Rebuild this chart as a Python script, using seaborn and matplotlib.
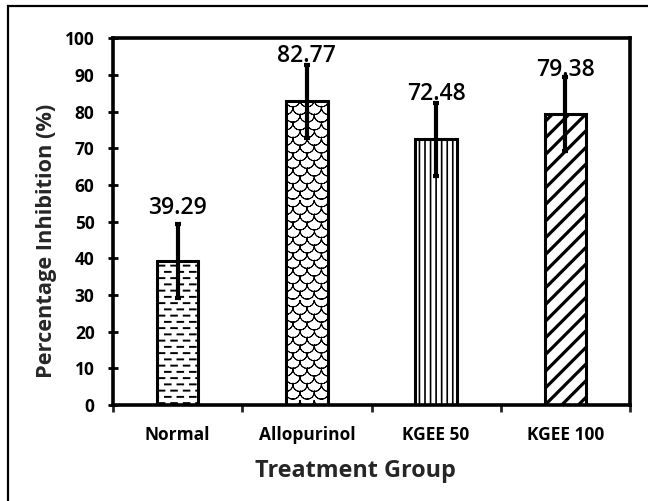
import warnings
import numpy as np
import pandas as pd
import matplotlib
matplotlib.use("Agg")
import matplotlib.pyplot as plt
import matplotlib.hatch as mhatch
from matplotlib.path import Path
from matplotlib.patches import Rectangle
import seaborn as sns

warnings.filterwarnings("ignore", category=matplotlib.MatplotlibDeprecationWarning)

# ---- data ----
groups = ["Normal", "Allopurinol", "KGEE 50", "KGEE 100"]
inhibition = [39.29, 82.77, 72.48, 79.38]
error = [10.0, 10.0, 10.0, 10.0]
y_ticks = [0, 10, 20, 30, 40, 50, 60, 70, 80, 90, 100]


# ---- extra fill patterns ----
class DashRowHatch(mhatch.HatchPatternBase):
    """Rows of short horizontal dashes, every other row shifted ('=')."""

    def __init__(self, hatch, density):
        n = hatch.count("=")
        self.rows = 16 * n
        self.cols = 8
        self.num_vertices = self.rows * (self.cols + 1) * 2

    def set_vertices_and_codes(self, vertices, codes):
        sy = 1.0 / self.rows
        sx = 1.0 / self.cols
        k = 0
        for r in range(self.rows):
            y = (r + 0.5) * sy
            shift = (r % 2) * sx / 2
            for c in range(-1, self.cols):
                x0 = c * sx + shift + sx * 0.2
                vertices[k] = (x0, y)
                vertices[k + 1] = (x0 + sx * 0.45, y)
                codes[k] = Path.MOVETO
                codes[k + 1] = Path.LINETO
                k += 2


class ScaleHatch(mhatch.HatchPatternBase):
    """Fish-scale arcs in a brick layout ('~').

    Each arc is traced out and back so the stroke encloses no area.
    """

    seg = 8

    def __init__(self, hatch, density):
        n = hatch.count("~")
        self.rows = 13 * n
        self.cols = 7 * n
        self.per_arc = 2 * self.seg + 1
        if n:
            self.num_vertices = (self.rows + 2) * (self.cols + 2) * self.per_arc
        else:
            self.num_vertices = 0

    def set_vertices_and_codes(self, vertices, codes):
        sy = 1.0 / self.rows
        sx = 1.0 / self.cols
        t = np.linspace(np.pi, 2 * np.pi, self.seg + 1)
        t = np.concatenate([t, t[-2::-1]])
        k = 0
        for r in range(-1, self.rows + 1):
            cy = (r + 0.5) * sy
            shift = (r % 2) * sx / 2
            for c in range(-1, self.cols + 1):
                cx = (c + 0.5) * sx + shift
                vertices[k:k + self.per_arc, 0] = cx + 0.5 * sx * np.cos(t)
                vertices[k:k + self.per_arc, 1] = cy + 0.5 * sy + 0.9 * sy * np.sin(t)
                codes[k] = Path.MOVETO
                codes[k + 1:k + self.per_arc] = Path.LINETO
                k += self.per_arc


mhatch._hatch_types.append(DashRowHatch)
mhatch._hatch_types.append(ScaleHatch)

# ---- style ----
sns.set_theme(style="ticks")
plt.rcParams["font.family"] = ["Open Sans", "DejaVu Sans"]
plt.rcParams["hatch.color"] = "black"

fig = plt.figure(figsize=(6.48, 5.01), dpi=100)
ax = fig.add_axes([113 / 648, 1 - 405 / 501, 517 / 648, (405 - 38.3) / 501])

df = pd.DataFrame({"group": groups, "value": inhibition})
sns.barplot(data=df, x="group", y="value", hue="group", order=groups,
            palette=["white"] * len(groups), saturation=1, width=0.32,
            edgecolor="black", linewidth=2.2, legend=False, ax=ax,
            errorbar=None)

patterns = ["=", "~", "|||", "//"]
hatch_widths = [1.4, 0.65, 1.2, 2.3]
for bar, pat, hw in zip(ax.patches, patterns, hatch_widths):
    bar.set_hatch(pat)
    if hasattr(bar, "set_hatch_linewidth"):
        bar.set_hatch_linewidth(hw)

xpos = np.arange(len(groups))
ax.errorbar(xpos, inhibition, yerr=error, fmt="none", ecolor="black",
            elinewidth=3.0, capsize=2.2, capthick=3.0, zorder=5)

# value labels above the error bars
label_lift = [7.5, 2.0, 1.5, 1.0]
for x, v, e, lift in zip(xpos, inhibition, error, label_lift):
    ax.annotate(f"{v:.2f}", xy=(x, v + e), xytext=(0, lift),
                textcoords="offset points", ha="center", va="baseline",
                fontsize=16.5, fontweight="semibold", color="black", zorder=6)

# axes
ax.set_ylim(0, 100)
ax.set_xlim(-0.5, len(groups) - 0.5)
ax.set_yticks(y_ticks)
ax.set_yticklabels([str(t) for t in y_ticks], fontsize=12.5, fontweight="bold")
ax.set_xticks(np.arange(-0.5, len(groups)), labels=[""] * (len(groups) + 1))
ax.set_xticks(xpos, labels=groups, minor=True)
for lab in ax.get_xticklabels(minor=True):
    lab.set_fontsize(12.5)
    lab.set_fontweight("bold")
ax.tick_params(axis="y", direction="inout", length=7.5, width=2.0, pad=9.5,
               colors="black")
ax.tick_params(axis="x", which="major", direction="out", length=5, width=2.0)
ax.tick_params(axis="x", which="minor", length=0, pad=15, colors="black")
for side in ["left", "right", "top", "bottom"]:
    ax.spines[side].set_visible(True)
    ax.spines[side].set_linewidth(2.6)
    ax.spines[side].set_color("black")
ax.set_xlabel("")
ax.set_ylabel("")

fig.text(355 / 648, 1 - 477 / 501, "Treatment Group", ha="center",
         va="baseline", fontsize=16.8, fontweight="bold")
fig.text(46.5 / 648, 1 - 241 / 501, "Percentage Inhibition (%)", ha="center",
         va="center", rotation=90, fontsize=15.7, fontweight="bold")

# outer frame
fig.add_artist(Rectangle((8 / 648, -0.1), 2.0, 1.1 - 5.5 / 501,
                         transform=fig.transFigure, fill=False,
                         edgecolor="black", linewidth=1.6, clip_on=False))

fig.savefig("out.png", dpi=100, facecolor="white")
